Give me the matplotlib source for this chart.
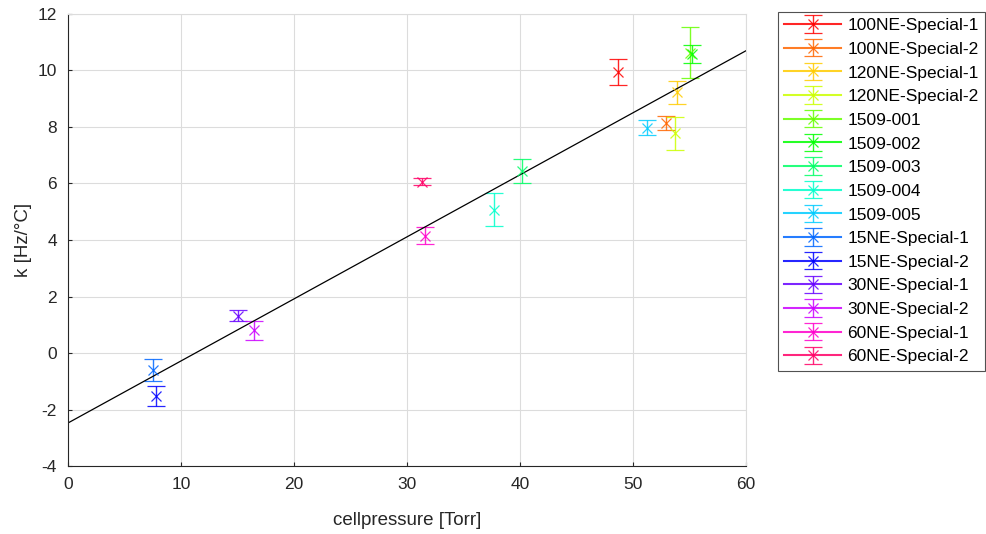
import colorsys
import numpy as np
import matplotlib
matplotlib.use("Agg")
import matplotlib.pyplot as plt

plt.rcParams['font.family'] = ['Liberation Sans', 'DejaVu Sans']
plt.rcParams['axes.unicode_minus'] = False

names = ['100NE-Special-1', '100NE-Special-2', '120NE-Special-1', '120NE-Special-2',
         '1509-001', '1509-002', '1509-003', '1509-004', '1509-005',
         '15NE-Special-1', '15NE-Special-2', '30NE-Special-1', '30NE-Special-2',
         '60NE-Special-1', '60NE-Special-2']
pressure = [48.7, 52.9, 53.9, 53.7, 55.0, 55.2, 40.2, 37.7, 51.2,
            7.55, 7.8, 15.0, 16.45, 31.6, 31.35]
k_val = [9.95, 8.13, 9.22, 7.78, 10.63, 10.58, 6.45, 5.07, 7.98,
         -0.6, -1.52, 1.33, 0.8, 4.16, 6.07]
k_err = [0.47, 0.24, 0.42, 0.58, 0.9, 0.33, 0.42, 0.58, 0.28,
         0.39, 0.35, 0.18, 0.34, 0.3, 0.13]
fit_coef = [0.2195, -2.47]  # slope, intercept

fig = plt.figure(figsize=(9.87, 5.34), dpi=100)
ax = fig.add_axes([0.069, 0.127, 0.687, 0.847])

n = len(names)
for i in range(n):
    c = colorsys.hsv_to_rgb(i / n, 1, 1)
    ax.errorbar([pressure[i]], [k_val[i]], yerr=[k_err[i]], fmt='x-', color=c,
                ecolor=c, elinewidth=1, capsize=6.5, capthick=1, markersize=7.5,
                mew=0.9, alpha=0.85, label=names[i])

xf = np.array([0, 60])
ax.plot(xf, np.polyval(fit_coef, xf), color='black', linewidth=0.9)

ax.set_xlim(0, 60)
ax.set_ylim(-4, 12)
ax.set_xticks(range(0, 61, 10))
ax.set_yticks(range(-4, 13, 2))
ax.grid(True, color='#dcdcdc', linewidth=0.8)
ax.set_axisbelow(True)
for s in ['top', 'right']:
    ax.spines[s].set_color('#dcdcdc')
for s in ['left', 'bottom']:
    ax.spines[s].set_color('#262626')
ax.tick_params(direction='in', length=3, labelsize=12.5, colors='#262626', pad=8)
ax.set_xlabel('cellpressure [Torr]', fontsize=13.5, color='#262626', labelpad=14)
ax.set_ylabel('k [Hz/°C]', fontsize=13.5, color='#262626', labelpad=4)

leg = fig.legend(loc='upper left', bbox_to_anchor=(778 / 987, 1 - 12 / 534),
                 fontsize=12.5, frameon=True, fancybox=False, handlelength=3.3,
                 borderpad=0.35, borderaxespad=0, labelspacing=0.49,
                 handletextpad=0.35, edgecolor='#262626')
leg.get_frame().set_linewidth(0.8)

fig.savefig('out.png', dpi=100)
